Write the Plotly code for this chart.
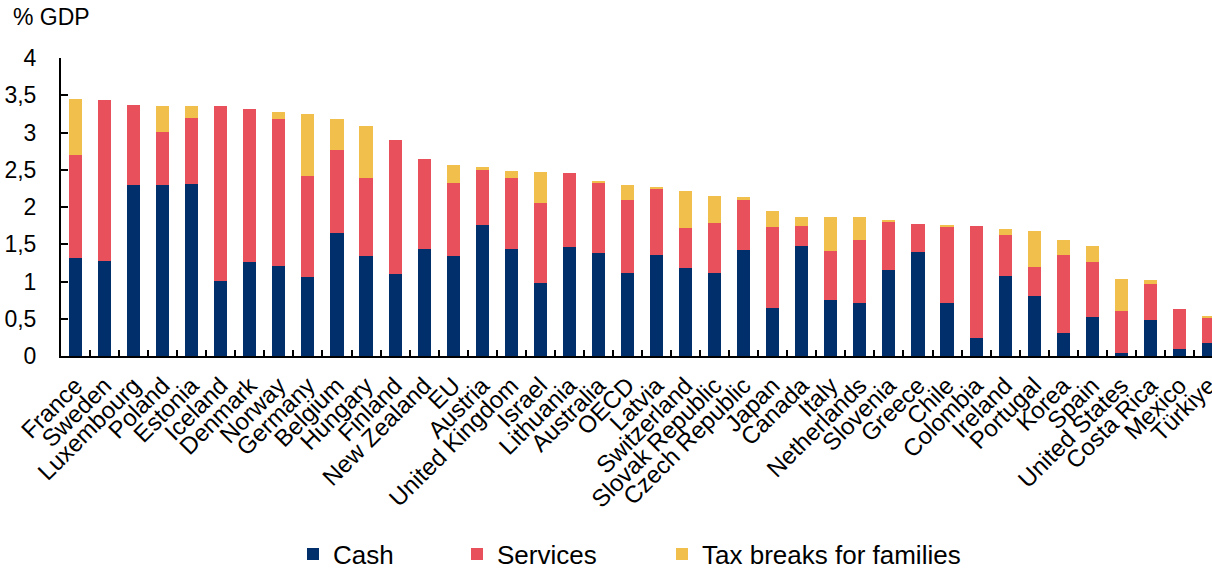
import plotly.graph_objects as go

# Public spending on family benefits by type, % of GDP
countries = [
    "France", "Sweden", "Luxembourg", "Poland", "Estonia", "Iceland", "Denmark",
    "Norway", "Germany", "Belgium", "Hungary", "Finland", "New Zealand", "EU",
    "Austria", "United Kingdom", "Israel", "Lithuania", "Australia", "OECD",
    "Latvia", "Switzerland", "Slovak Republic", "Czech Republic", "Japan",
    "Canada", "Italy", "Netherlands", "Slovenia", "Greece", "Chile", "Colombia",
    "Ireland", "Portugal", "Korea", "Spain", "United States", "Costa Rica",
    "Mexico", "Türkiye",
]
cash = [
    1.32, 1.28, 2.29, 2.29, 2.31, 1.01, 1.26, 1.21, 1.06, 1.65, 1.34, 1.10,
    1.43, 1.34, 1.76, 1.43, 0.98, 1.46, 1.38, 1.11, 1.36, 1.18, 1.12, 1.42,
    0.65, 1.47, 0.75, 0.71, 1.15, 1.39, 0.71, 0.24, 1.08, 0.81, 0.31, 0.53,
    0.045, 0.48, 0.09, 0.18,
]
services = [
    1.38, 2.15, 1.08, 0.72, 0.89, 2.34, 2.06, 1.97, 1.35, 1.11, 1.05, 1.80,
    1.22, 0.98, 0.74, 0.96, 1.07, 1.00, 0.95, 0.99, 0.88, 0.54, 0.66, 0.67,
    1.08, 0.28, 0.66, 0.85, 0.65, 0.38, 1.02, 1.51, 0.54, 0.39, 1.05, 0.73,
    0.555, 0.49, 0.54, 0.34,
]
tax_breaks = [
    0.75, 0.0, 0.0, 0.35, 0.15, 0.0, 0.0, 0.10, 0.84, 0.42, 0.70, 0.0,
    0.0, 0.24, 0.04, 0.10, 0.42, 0.0, 0.02, 0.20, 0.03, 0.50, 0.37, 0.04,
    0.22, 0.12, 0.46, 0.30, 0.02, 0.0, 0.03, 0.0, 0.08, 0.48, 0.20, 0.22,
    0.44, 0.05, 0.0, 0.02,
]
y_ticks = [0, 0.5, 1, 1.5, 2, 2.5, 3, 3.5, 4]

NAVY = "#002F6C"
RED = "#E8505B"
GOLD = "#F1BF4B"
FONT = "Liberation Sans, Arial, sans-serif"

W, H = 1212, 568
M_L, M_R, M_T, M_B = 61, 0, 58, 212
plot_w = W - M_L - M_R
plot_h = H - M_T - M_B


def px_x(px):
    return (px - M_L) / plot_w


def px_y(py):
    return (H - M_B - py) / plot_h


fig = go.Figure()
series = [
    ("Cash", cash, NAVY, "legend"),
    ("Services", services, RED, "legend2"),
    ("Tax breaks for families", tax_breaks, GOLD, "legend3"),
]
for name, vals, color, leg in series:
    fig.add_trace(go.Bar(
        x=countries, y=vals, name=name, legend=leg, showlegend=True,
        marker=dict(color=color, line=dict(width=0)),
    ))

# category band is ~29 px wide; the last bar runs off the right edge
band = 29.05
x_end = -0.5 + plot_w / band

# legend entries sit in the bottom strip of the canvas
legend_y = (H - 554) / H
legend_common = dict(
    orientation="h", xanchor="left", yanchor="middle",
    xref="paper", yref="container", y=legend_y,
    font=dict(family=FONT, size=26, color="#000000"),
    bgcolor="rgba(0,0,0,0)", borderwidth=0, visible=True,
)

fig.update_layout(
    width=W, height=H, autosize=False, showlegend=True,
    margin=dict(l=M_L, r=M_R, t=M_T, b=M_B, pad=0),
    barmode="stack", bargap=0.55,
    paper_bgcolor="white", plot_bgcolor="white",
    separators=", ",
    font=dict(family=FONT, size=22, color="#000000"),
    legend=dict(x=px_x(293), **legend_common),
    legend2=dict(x=px_x(457), **legend_common),
    legend3=dict(x=px_x(662), **legend_common),
    xaxis=dict(
        type="category", range=[-0.5, x_end],
        tickangle=-45, tickson="boundaries",
        ticks="inside", ticklen=6, tickwidth=2, tickcolor="#000000",
        showline=True, linecolor="#000000", linewidth=2,
        showgrid=False, zeroline=False, automargin=False,
        ticklabelstandoff=4,
        tickfont=dict(family=FONT, size=24, color="#000000"),
    ),
    yaxis=dict(
        range=[0, 4], tickvals=y_ticks,
        ticks="inside", ticklen=7, tickwidth=2, tickcolor="#000000",
        showline=True, linecolor="#000000", linewidth=2,
        showgrid=False, zeroline=False, automargin=False,
        ticklabelstandoff=18,
        tickfont=dict(family=FONT, size=23, color="#000000"),
    ),
    annotations=[dict(
        text="% GDP", xref="paper", yref="paper",
        x=px_x(11), y=px_y(17), xanchor="left", yanchor="middle",
        showarrow=False, font=dict(family=FONT, size=23, color="#000000"),
    )],
)

fig.write_html("out.html")
